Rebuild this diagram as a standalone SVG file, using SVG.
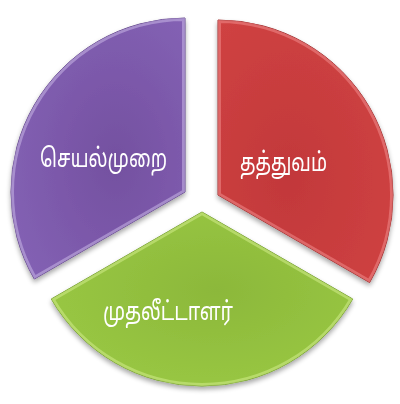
<svg xmlns="http://www.w3.org/2000/svg" width="400" height="404" viewBox="0 0 400 404">
<defs>
<style>
.lbl{font-family:"Noto Sans Tamil","Lohit Tamil","Latha","Noto Sans","DejaVu Sans",sans-serif;font-size:26px;fill:#ffffff;text-anchor:middle}
.edge{fill:none;stroke-width:6;stroke-opacity:0.55}
</style>
<radialGradient id="gP" cx="0.6" cy="0.55" r="0.7">
<stop offset="0" stop-color="#7450a0"/><stop offset="1" stop-color="#8462b5"/>
</radialGradient>
<radialGradient id="gR" cx="0.4" cy="0.6" r="0.7">
<stop offset="0" stop-color="#c2383a"/><stop offset="1" stop-color="#cf4242"/>
</radialGradient>
<radialGradient id="gG" cx="0.55" cy="0.45" r="0.7">
<stop offset="0" stop-color="#8cb83a"/><stop offset="1" stop-color="#9bca45"/>
</radialGradient>
<clipPath id="cP"><path d="M185,192 L34.3,279 A174,174 0 0 1 185,18 Z"/></clipPath>
<clipPath id="cR"><path d="M218,195 L218,20 A175,175 0 0 1 369.6,282.5 Z"/></clipPath>
<clipPath id="cG"><path d="M202,212 L352.7,299 A174,174 0 0 1 51.3,299 Z"/></clipPath>
<filter id="sh" x="-10%" y="-10%" width="120%" height="130%">
<feGaussianBlur in="SourceAlpha" stdDeviation="2.5"/>
<feOffset dy="3" result="b"/>
<feComponentTransfer><feFuncA type="linear" slope="0.35"/></feComponentTransfer>
<feMerge><feMergeNode/><feMergeNode in="SourceGraphic"/></feMerge>
</filter>
</defs>
<rect width="400" height="404" fill="#ffffff"/>
<g id="node-process" filter="url(#sh)">
<path d="M185,192 L34.3,279 A174,174 0 0 1 185,18 Z" fill="url(#gP)" stroke="#5e4088" stroke-width="1"/>
<path d="M185,192 L34.3,279 A174,174 0 0 1 185,18 Z" class="edge" stroke="#c9b6e6" clip-path="url(#cP)"/>
<text class="lbl" x="103.5" y="167" textLength="127" lengthAdjust="spacingAndGlyphs">செயல்முறை</text>
</g>
<g id="node-philosophy" filter="url(#sh)">
<path d="M218,195 L218,20 A175,175 0 0 1 369.6,282.5 Z" fill="url(#gR)" stroke="#9e2a2a" stroke-width="1"/>
<path d="M218,195 L218,20 A175,175 0 0 1 369.6,282.5 Z" class="edge" stroke="#f08a8a" clip-path="url(#cR)"/>
<text class="lbl" x="283.5" y="171" textLength="87" lengthAdjust="spacingAndGlyphs">தத்துவம்</text>
</g>
<g id="node-investor" filter="url(#sh)">
<path d="M202,212 L352.7,299 A174,174 0 0 1 51.3,299 Z" fill="url(#gG)" stroke="#6f9a28" stroke-width="1"/>
<path d="M202,212 L352.7,299 A174,174 0 0 1 51.3,299 Z" class="edge" stroke="#d2ec8a" clip-path="url(#cG)"/>
<text class="lbl" x="168" y="320" textLength="130" lengthAdjust="spacingAndGlyphs">முதலீட்டாளர்</text>
</g>
<g id="connectors"></g>
</svg>
